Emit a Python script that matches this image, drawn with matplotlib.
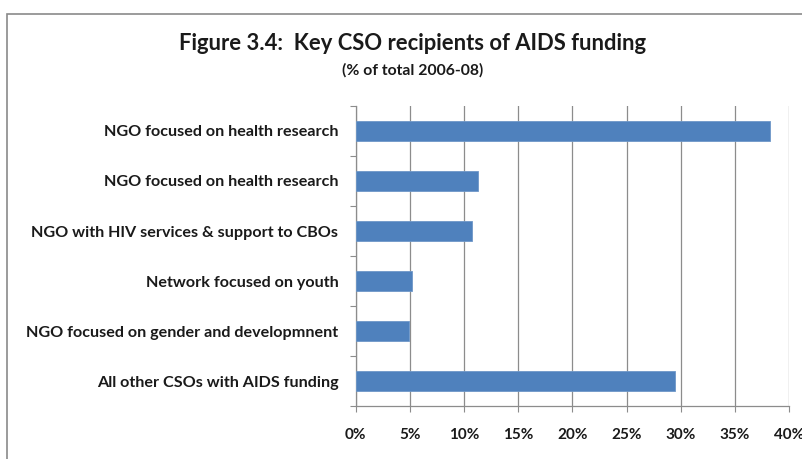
import matplotlib.pyplot as plt
from matplotlib.patches import Rectangle
from matplotlib.ticker import FuncFormatter

plt.rcParams['font.family'] = ['Lato', 'DejaVu Sans']

# CSO recipients, listed top to bottom
recipients = ['NGO focused on health research',
              'NGO focused on health research',
              'NGO with HIV services & support to CBOs',
              'Network focused on youth',
              'NGO focused on gender and developmnent',
              'All other CSOs with AIDS funding']
share_pct = [38.2, 11.3, 10.7, 5.2, 4.9, 29.5]
x_ticks = [0, 5, 10, 15, 20, 25, 30, 35, 40]

bar_color = '#4F81BD'
grid_color = '#8C8C8C'

fig = plt.figure(figsize=(8.03, 4.59), dpi=100)

# chart area border (runs off the right and bottom edges)
fig.patches.append(Rectangle((7 / 803, -0.2), 1.2, 1.2 - 14 / 459,
                             transform=fig.transFigure, fill=False,
                             edgecolor='#8A8A8A', linewidth=1.2))

ax = fig.add_axes([355.7 / 803, 1 - 406 / 459, 433.6 / 803, 300 / 459])

n = len(recipients)
ypos = [n - 1 - i for i in range(n)]
ax.barh(ypos, share_pct, height=0.4, color=bar_color,
        edgecolor='#6E97C8', linewidth=0.6, zorder=3)

ax.set_xlim(0, 40)
ax.set_ylim(-0.5, n - 0.5)
ax.set_xticks(x_ticks)
ax.xaxis.set_major_formatter(FuncFormatter(lambda v, p: f'{v:.0f}%'))
ax.grid(axis='x', color=grid_color, linewidth=0.9, zorder=0)

# category boundary ticks, labels at bar centres
ax.set_yticks([i - 0.5 for i in range(n + 1)])
ax.set_yticklabels([])
ax.set_yticks(ypos, minor=True)
ax.set_yticklabels(recipients, minor=True, fontsize=11.6, fontweight='bold',
                   color='#1A1A1A')
ax.tick_params(axis='y', which='major', length=4, color=grid_color, direction='out')
ax.tick_params(axis='y', which='minor', length=0, pad=12.5)
ax.tick_params(axis='x', length=4, color=grid_color, direction='out', pad=12,
               labelsize=11, labelcolor='#1A1A1A')
for lbl in ax.get_xticklabels():
    lbl.set_fontweight('bold')

for side in ['top', 'right']:
    ax.spines[side].set_visible(False)
for side in ['left', 'bottom']:
    ax.spines[side].set_color(grid_color)
    ax.spines[side].set_linewidth(0.9)

fig.text(413 / 803, 1 - 44 / 459, 'Figure 3.4:  Key CSO recipients of AIDS funding',
         ha='center', va='center', fontsize=15.8, fontweight='bold', color='#1A1A1A')
fig.text(413 / 803, 1 - 70 / 459, '(% of total 2006-08)',
         ha='center', va='center', fontsize=11.3, fontweight='bold', color='#1A1A1A')

fig.savefig('out.png', dpi=100)
